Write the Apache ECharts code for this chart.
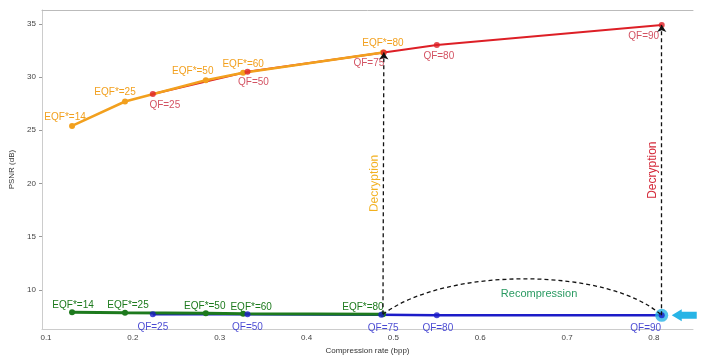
<!DOCTYPE html>
<html><head><meta charset="utf-8">
<script src="https://cdn.jsdelivr.net/npm/echarts@6/dist/echarts.min.js"></script>
<style>html,body{margin:0;padding:0;background:#fff}#c{width:704px;height:360px}</style>
</head><body><div id="c"></div>
<script>
// ---- data ----
const eqfTopX = [0.130, 0.191, 0.284, 0.327, 0.488];
const eqfTopY = [25.4, 27.7, 29.7, 30.4, 32.3];
const eqfTopLabels = ['EQF*=14', 'EQF*=25', 'EQF*=50', 'EQF*=60', 'EQF*=80'];

const qfTopX = [0.223, 0.332, 0.489, 0.550, 0.809];
const qfTopY = [28.4, 30.5, 32.3, 33.0, 34.9];
const qfTopLabels = ['QF=25', 'QF=50', 'QF=75', 'QF=80', 'QF=90'];

const eqfBotX = [0.130, 0.191, 0.284, 0.327, 0.488];
const eqfBotY = [7.9, 7.85, 7.8, 7.75, 7.7];
const eqfBotLabels = ['EQF*=14', 'EQF*=25', 'EQF*=50', 'EQF*=60', 'EQF*=80'];

const qfBotX = [0.223, 0.332, 0.486, 0.550, 0.809];
const qfBotY = [7.7, 7.7, 7.65, 7.6, 7.6];
const qfBotLabels = ['QF=25', 'QF=50', 'QF=75', 'QF=80', 'QF=90'];

const xTicks = [0.1, 0.2, 0.3, 0.4, 0.5, 0.6, 0.7, 0.8];
const yTicks = [10, 15, 20, 25, 30, 35];

// ---- label layout offsets (style only) ----
const offEqfTop = [[-7, 2], [-10, 2], [-13, 2], [0, 2], [0, 2]];
const offQfTop = [[12, 0], [6, 0], [-15, 0], [2, 0], [-18, 0]];
const offEqfBot = [[1, 4], [3, 4], [-1, 4], [8, 4], [-20, 4]];
const offQfBot = [[0, 2], [0, 2], [2, 2], [1, 2], [-16, 2]];

const C_OR = '#f2a01e', C_RED = '#dd1f26', C_GR = '#1d7a1d', C_BL = '#1c1cc8', C_CY = '#27b4e6';

function pts(xs, ys, labels, offs, color, pos) {
  return xs.map((x, i) => ({
    value: [x, ys[i]],
    label: { show: true, formatter: labels[i], position: pos, offset: offs[i], color: color, fontSize: 10, distance: 3 }
  }));
}
function line(xs, ys) { return xs.map((x, i) => [x, ys[i]]); }

// annotation: recompression curve + cyan pointer, positioned from data via api.coord
function renderAnnot(params, api) {
  const p1 = api.coord([eqfBotX[4], eqfBotY[4]]);
  const p2 = api.coord([qfBotX[4], qfBotY[4]]);
  const d = p2[0] - p1[0];
  return {
    type: 'group',
    children: [
      { type: 'bezierCurve',
        shape: { x1: p1[0], y1: p1[1], x2: p2[0], y2: p2[1],
                 cpx1: p1[0] + 0.23 * d, cpy1: p1[1] - 48, cpx2: p2[0] - 0.19 * d, cpy2: p2[1] - 48 },
        style: { stroke: '#111', fill: null, lineWidth: 1.3, lineDash: [4, 3] } },
      { type: 'text',
        style: { text: 'Recompression', x: p1[0] + 0.56 * d, y: p1[1] - 20, fill: '#2a9a62',
                 font: '11px sans-serif', align: 'center', verticalAlign: 'middle' } },
      { type: 'polygon',
        shape: { points: [[p2[0] + 10, p2[1]], [p2[0] + 20, p2[1] - 6], [p2[0] + 20, p2[1] - 3.5],
                          [p2[0] + 35, p2[1] - 3.5], [p2[0] + 35, p2[1] + 3.5], [p2[0] + 20, p2[1] + 3.5],
                          [p2[0] + 20, p2[1] + 6]] },
        style: { fill: C_CY } }
    ]
  };
}

const chart = echarts.init(document.getElementById('c'));
chart.setOption({
  animation: false,
  grid: { left: 42, right: 11, top: 10, bottom: 27 },
  xAxis: [{
    type: 'value', min: 0.0954, max: 0.845,
    name: 'Compression rate (bpp)', nameLocation: 'middle', nameGap: 16,
    nameTextStyle: { fontSize: 8, color: '#333' },
    axisLine: { lineStyle: { color: '#ccc' } },
    axisTick: { show: false },
    axisLabel: { customValues: xTicks, fontSize: 8, color: '#444', margin: 5, formatter: v => String(Math.round(v * 10) / 10) },
    splitLine: { show: false }
  }, {
    type: 'value', position: 'top', min: 0.0954, max: 0.845,
    axisLine: { show: true, lineStyle: { color: '#bbb' } },
    axisTick: { show: false }, axisLabel: { show: false }, splitLine: { show: false }
  }],
  yAxis: {
    type: 'value', min: 6.31, max: 36.3,
    name: 'PSNR (dB)', nameLocation: 'middle', nameGap: 24,
    nameTextStyle: { fontSize: 8, color: '#333' },
    axisLine: { show: true, lineStyle: { color: '#ccc' } },
    axisTick: { show: true, customValues: yTicks, length: 3, lineStyle: { color: '#999' } },
    axisLabel: { customValues: yTicks, fontSize: 8, color: '#444', margin: 6 },
    splitLine: { show: false }
  },
  series: [
    { type: 'line', data: line(qfTopX, qfTopY), showSymbol: false, lineStyle: { color: C_RED, width: 2 }, z: 2 },
    { type: 'line', data: pts(eqfTopX, eqfTopY, eqfTopLabels, offEqfTop, C_OR, 'top'),
      symbol: 'circle', symbolSize: 6, itemStyle: { color: C_OR }, lineStyle: { color: C_OR, width: 2.5 }, z: 3 },
    { type: 'scatter', data: pts(qfTopX, qfTopY, qfTopLabels, offQfTop, '#c8283c', 'bottom'),
      symbol: 'circle', symbolSize: 6, itemStyle: { color: C_RED }, z: 4 },
    { type: 'line', data: line(qfBotX, qfBotY), showSymbol: false, lineStyle: { color: C_BL, width: 2.5 }, z: 2 },
    { type: 'scatter', data: [[qfBotX[4], qfBotY[4]]], symbol: 'circle', symbolSize: 13, itemStyle: { color: C_CY }, z: 3 },
    { type: 'line', data: pts(eqfBotX, eqfBotY, eqfBotLabels, offEqfBot, C_GR, 'top'),
      symbol: 'circle', symbolSize: 6, itemStyle: { color: C_GR }, lineStyle: { color: C_GR, width: 3 }, z: 3 },
    { type: 'scatter', data: pts(qfBotX, qfBotY, qfBotLabels, offQfBot, C_BL, 'bottom'),
      symbol: 'circle', symbolSize: 6, itemStyle: { color: C_BL }, z: 4,
      markLine: {
        silent: true, symbol: ['none', 'arrow'], symbolSize: 7, animation: false,
        lineStyle: { color: '#111', type: [4, 3], width: 1.3 },
        data: [
          [{ coord: [eqfBotX[4], eqfBotY[4]],
             label: { show: true, formatter: 'Decryption', position: 'insideMiddleTop', color: '#f2b01e', fontSize: 12, distance: 3 } },
           { coord: [qfTopX[2], qfTopY[2]] }],
          [{ coord: [qfBotX[4], qfBotY[4]],
             label: { show: true, formatter: 'Decryption', position: 'insideMiddleTop', color: '#d42a3a', fontSize: 12, distance: 3 } },
           { coord: [qfTopX[4], qfTopY[4]] }]
        ]
      }
    },
    { type: 'custom', renderItem: renderAnnot, data: [[qfBotX[4], qfBotY[4]]], clip: false, silent: true, z: 5 }
  ]
});
</script>
</body></html>
